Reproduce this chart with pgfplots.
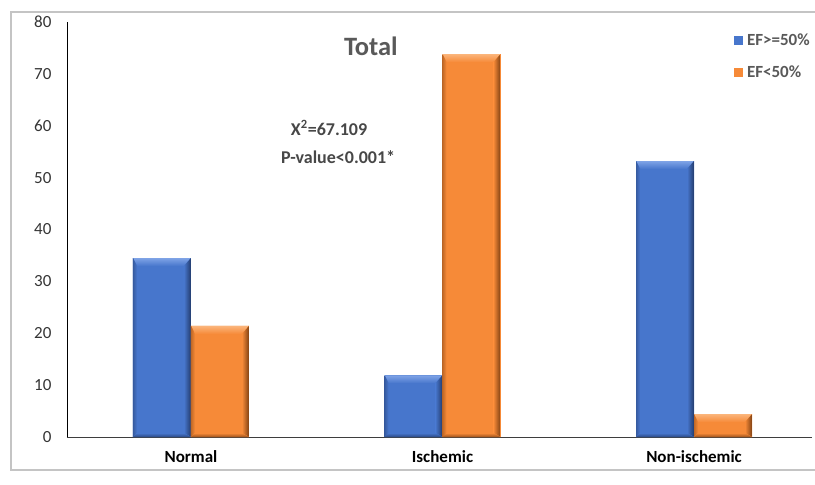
\documentclass[border=0pt]{standalone}
\usepackage{pgfplots}
\pgfplotsset{compat=1.18}
\usepackage{fontspec}
\setmainfont{Carlito}

\definecolor{efhigh}{HTML}{4776CC}
\definecolor{efhighlight}{HTML}{7FA3E6}
\definecolor{efhighdark}{HTML}{223A6B}
\definecolor{eflow}{HTML}{F68A38}
\definecolor{eflowlight}{HTML}{FBB47A}
\definecolor{eflowdark}{HTML}{7F4012}
\definecolor{labelgray}{HTML}{595959}
\definecolor{framegray}{HTML}{C4C4C4}

% bevelled look for a bar: light top band, dark right and bottom edges
\tikzset{
  bevel/.style n args={3}{
    path picture={
      \path[path picture={}] (path picture bounding box.north west) coordinate (bnw)
            (path picture bounding box.north east) coordinate (bne)
            (path picture bounding box.south west) coordinate (bsw)
            (path picture bounding box.south east) coordinate (bse);
      \shade[path picture={}, top color=#2, bottom color=#1]
        (bnw) -- (bne) -- ([shift={(-7pt,-8pt)}]bne) -- ([shift={(4pt,-8pt)}]bnw) -- cycle;
      \shade[path picture={}, left color=#1, right color=#3]
        (bne) -- (bse) -- ([shift={(-7pt,4pt)}]bse) -- ([shift={(-7pt,-8pt)}]bne) -- cycle;
      \shade[path picture={}, left color=#3!45!#1, right color=#1]
        (bnw) -- ([shift={(4pt,-8pt)}]bnw) -- ([shift={(4pt,4pt)}]bsw) -- (bsw) -- cycle;
      \shade[path picture={}, top color=#1, bottom color=#3!75!#1]
        (bsw) -- (bse) -- ([shift={(-7pt,4pt)}]bse) -- ([shift={(4pt,4pt)}]bsw) -- cycle;
    }
  },
  efhighbar/.style={bar shift=-29pt, fill=efhigh, draw=none, bevel={efhigh}{efhighlight}{efhighdark}},
  eflowbar/.style={bar shift=29pt, fill=eflow, draw=none, bevel={eflow}{eflowlight}{eflowdark}},
}

\begin{document}
\begin{tikzpicture}
  % canvas and chart frame (the axis box starts at the origin)
  \useasboundingbox[fill=white] (-67pt,-48pt) rectangle (748pt,437pt);
  \draw[framegray, line width=2.5pt] (748pt,425pt) -- (-56pt,425pt) -- (-56pt,-33pt) -- (748pt,-33pt);

  \begin{axis}[
    at={(0pt,0pt)}, anchor=south west,
    scale only axis,
    width=745pt, height=415pt,
    ymin=0, ymax=80,
    xmin=-0.493, xmax=2.469,
    ytick={0,10,...,80},
    xtick={0,1,2},
    xticklabels={Normal,Ischemic,Non-ischemic},
    axis x line=bottom,
    axis y line=left,
    axis line style={-, black, line width=0.8pt},
    x axis line style={labelgray!70!black},
    major tick length=0pt,
    tick style={draw=none},
    yticklabel style={font=\fontsize{17}{20}\selectfont, text=labelgray!60!black, xshift=-12pt},
    xticklabel style={font=\fontsize{17}{20}\selectfont\bfseries, text=black, yshift=-10pt},
    /pgf/number format/assume math mode=true,
    ybar, bar width=58pt,
    legend style={
      at={(rel axis cs:0.891,0.982)}, anchor=north west,
      draw=none, fill=none,
      font=\fontsize{17}{20}\selectfont\bfseries,
      text=labelgray,
      row sep=15pt,
      /tikz/every odd column/.append style={column sep=2pt},
    },
    legend cell align=left,
    legend image code/.code={
      \fill[#1, path picture={}] (0pt,-4.5pt) rectangle (9pt,4.5pt);
    },
    clip=false,
  ]
    % EF >= 50% (one bar per category so each gets its own bevel)
    \addplot[efhighbar] coordinates {(0,34.5)};
    \addlegendentry{EF>=50\%}
    % EF < 50%
    \addplot[eflowbar] coordinates {(0,21.4)};
    \addlegendentry{EF<50\%}
    \addplot[efhighbar, forget plot] coordinates {(1,11.9)};
    \addplot[efhighbar, forget plot] coordinates {(2,53.2)};
    \addplot[eflowbar, forget plot] coordinates {(1,73.8)};
    \addplot[eflowbar, forget plot] coordinates {(2,4.4)};

    \node[font=\fontsize{26.5}{30}\selectfont\bfseries, text=labelgray]
      at (axis cs:0.715,75.4) {Total};
    \node[font=\fontsize{18}{21}\selectfont\bfseries, text=labelgray!80!black]
      at (axis cs:0.549,59.6) {X\textsuperscript{2}=67.109};
    \node[font=\fontsize{18}{21}\selectfont\bfseries, text=labelgray!80!black]
      at (axis cs:0.585,54.0) {P-value<0.001*};
  \end{axis}
\end{tikzpicture}
\end{document}
